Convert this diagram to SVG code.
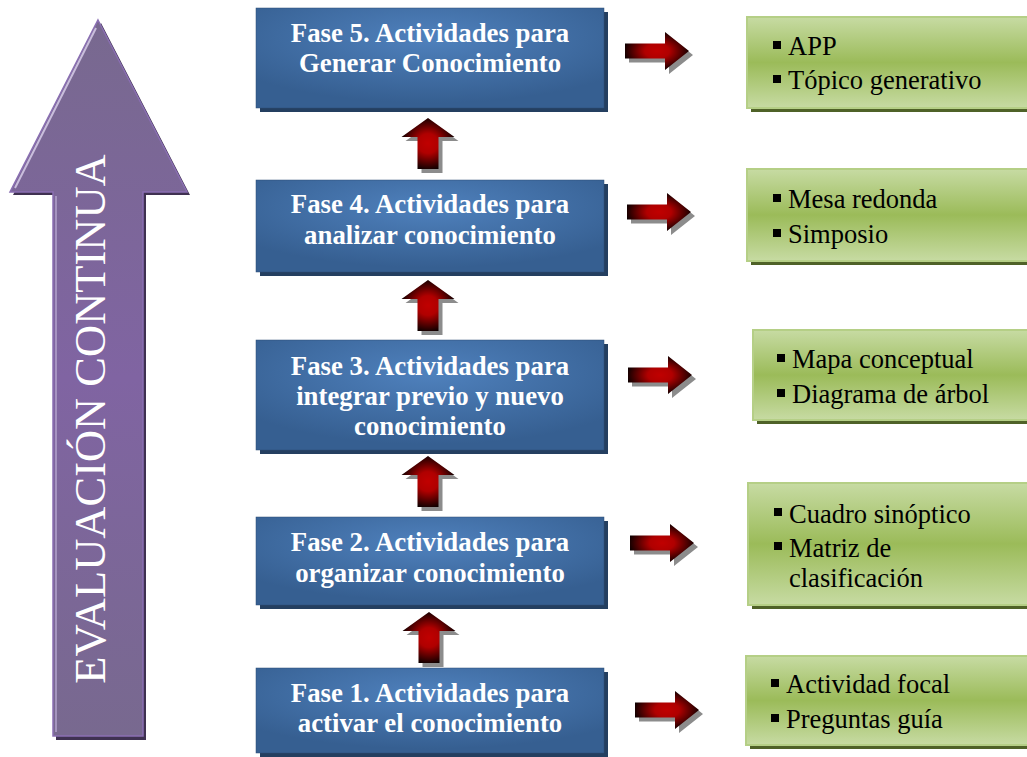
<svg xmlns="http://www.w3.org/2000/svg" width="1027" height="757" viewBox="0 0 1027 757">
<style>
.ph{font-family:"Times New Roman","Liberation Serif",Times,"DejaVu Serif",serif;font-weight:bold;font-size:26.8px;fill:#ffffff;text-anchor:middle}
.li{font-family:"Times New Roman","Liberation Serif",Times,"DejaVu Serif",serif;font-size:26.5px;fill:#000000}
.ev{font-family:"Times New Roman","Liberation Serif",Times,"DejaVu Serif",serif;font-size:44.5px;fill:#ffffff;text-anchor:middle}
.blue{fill:url(#gBlue);stroke:#2c4d75;stroke-width:0.5}
.bsh{fill:#243f60}
.green{fill:url(#gGreen);stroke:#b5cf86;stroke-width:2}
.gsh{fill:#4f6228}
.red{fill:url(#gRed)}
.redsh{fill:#8c8c8c}
.bul{fill:#000000}
</style>
<defs>
<radialGradient id="gBlue" cx="50%" cy="30%" r="65%">
<stop offset="0" stop-color="#4f81bd"/>
<stop offset="1" stop-color="#365f91"/>
</radialGradient>
<linearGradient id="gGreen" x1="0" y1="0" x2="0" y2="1">
<stop offset="0" stop-color="#c7dba3"/>
<stop offset="0.5" stop-color="#9bbb59"/>
<stop offset="1" stop-color="#c7dba3"/>
</linearGradient>
<radialGradient id="gRed" cx="50%" cy="50%" r="55%">
<stop offset="0" stop-color="#c00000"/>
<stop offset="0.35" stop-color="#b00000"/>
<stop offset="1" stop-color="#000000"/>
</radialGradient>
<linearGradient id="gPurple" x1="0" y1="0" x2="0" y2="1">
<stop offset="0" stop-color="#78698f"/>
<stop offset="0.5" stop-color="#8064a2"/>
<stop offset="1" stop-color="#78698f"/>
</linearGradient>
<path id="upA" d="M0,0 L26.5,19 L10.5,19 L10.5,51 L-10.5,51 L-10.5,19 L-26.5,19 Z"/>
<path id="rtA" d="M0,-7.5 L40,-7.5 L40,-19 L64,0 L40,19 L40,7.5 L0,7.5 Z"/>
</defs>

<g id="evaluacion">
<path d="M101,23 L190,195 L146,195 L146,740 L56,740 L56,195 L13,195 Z" fill="#3f3151"/>
<path d="M98,20 L187,192 L143,192 L143,736 L53,736 L53,192 L10,192 Z" fill="url(#gPurple)" stroke="#8a6fb2" stroke-width="1.5"/>
<path d="M96,28 L15,188" stroke="#c9bddc" stroke-width="2" fill="none"/>
<path d="M56,196 L56,732" stroke="#b3a3cc" stroke-width="1.5" fill="none"/>
<text class="ev" transform="translate(105,419) rotate(-90)">EVALUACIÓN CONTINUA</text>
</g>

<g id="fase5">
<rect class="bsh" x="260" y="12" width="348" height="100"/>
<rect class="blue" x="256" y="8" width="348" height="100"/>
<text class="ph" x="430" y="42">Fase 5. Actividades para</text>
<text class="ph" x="430" y="72">Generar Conocimiento</text>
</g>
<g id="fase4">
<rect class="bsh" x="260" y="184" width="348" height="92"/>
<rect class="blue" x="256" y="180" width="348" height="92"/>
<text class="ph" x="430" y="213">Fase 4. Actividades para</text>
<text class="ph" x="430" y="244">analizar conocimiento</text>
</g>
<g id="fase3">
<rect class="bsh" x="260" y="344" width="348" height="110"/>
<rect class="blue" x="256" y="340" width="348" height="110"/>
<text class="ph" x="430" y="375">Fase 3. Actividades para</text>
<text class="ph" x="430" y="405">integrar previo y nuevo</text>
<text class="ph" x="430" y="435">conocimiento</text>
</g>
<g id="fase2">
<rect class="bsh" x="260" y="521" width="348" height="88"/>
<rect class="blue" x="256" y="517" width="348" height="88"/>
<text class="ph" x="430" y="551">Fase 2. Actividades para</text>
<text class="ph" x="430" y="582">organizar conocimiento</text>
</g>
<g id="fase1">
<rect class="bsh" x="260" y="672" width="348" height="85"/>
<rect class="blue" x="256" y="668" width="348" height="85"/>
<text class="ph" x="430" y="702">Fase 1. Actividades para</text>
<text class="ph" x="430" y="732">activar el conocimiento</text>
</g>

<g id="lista5">
<rect class="gsh" x="751" y="21" width="290" height="91"/>
<rect class="green" x="747" y="17" width="290" height="91"/>
<rect class="bul" x="773" y="41" width="8" height="8"/>
<text class="li" x="788" y="55">APP</text>
<rect class="bul" x="773" y="75" width="8" height="8"/>
<text class="li" x="788" y="89">Tópico generativo</text>
</g>
<g id="lista4">
<rect class="gsh" x="751" y="173" width="290" height="92"/>
<rect class="green" x="747" y="169" width="290" height="92"/>
<rect class="bul" x="773" y="194" width="8" height="8"/>
<text class="li" x="788" y="208">Mesa redonda</text>
<rect class="bul" x="773" y="229" width="8" height="8"/>
<text class="li" x="788" y="243">Simposio</text>
</g>
<g id="lista3">
<rect class="gsh" x="757" y="334" width="290" height="90"/>
<rect class="green" x="753" y="330" width="290" height="90"/>
<rect class="bul" x="777" y="354" width="8" height="8"/>
<text class="li" x="792" y="368">Mapa conceptual</text>
<rect class="bul" x="777" y="389" width="8" height="8"/>
<text class="li" x="792" y="403">Diagrama de árbol</text>
</g>
<g id="lista2">
<rect class="gsh" x="752" y="487" width="290" height="122"/>
<rect class="green" x="748" y="483" width="290" height="122"/>
<rect class="bul" x="774" y="508" width="8" height="8"/>
<text class="li" x="789" y="523">Cuadro sinóptico</text>
<rect class="bul" x="774" y="542" width="8" height="8"/>
<text class="li" x="789" y="557">Matriz de</text>
<text class="li" x="789" y="587">clasificación</text>
</g>
<g id="lista1">
<rect class="gsh" x="750" y="660" width="290" height="89"/>
<rect class="green" x="746" y="656" width="290" height="89"/>
<rect class="bul" x="771" y="679" width="8" height="8"/>
<text class="li" x="786" y="693">Actividad focal</text>
<rect class="bul" x="771" y="714" width="8" height="8"/>
<text class="li" x="786" y="728">Preguntas guía</text>
</g>

<g id="conectores">
<use href="#upA" class="redsh" transform="translate(432,122)"/>
<use href="#upA" class="red" transform="translate(428,118)"/>
<use href="#upA" class="redsh" transform="translate(432,284)"/>
<use href="#upA" class="red" transform="translate(428,280)"/>
<use href="#upA" class="redsh" transform="translate(432,460)"/>
<use href="#upA" class="red" transform="translate(428,456)"/>
<use href="#upA" class="redsh" transform="translate(433,616)"/>
<use href="#upA" class="red" transform="translate(429,612)"/>

<use href="#rtA" class="redsh" transform="translate(629,55)"/>
<use href="#rtA" class="red" transform="translate(625,51)"/>
<use href="#rtA" class="redsh" transform="translate(631,216)"/>
<use href="#rtA" class="red" transform="translate(627,212)"/>
<use href="#rtA" class="redsh" transform="translate(632,379)"/>
<use href="#rtA" class="red" transform="translate(628,375)"/>
<use href="#rtA" class="redsh" transform="translate(634,547)"/>
<use href="#rtA" class="red" transform="translate(630,543)"/>
<use href="#rtA" class="redsh" transform="translate(639,714)"/>
<use href="#rtA" class="red" transform="translate(635,710)"/>
</g>
</svg>
